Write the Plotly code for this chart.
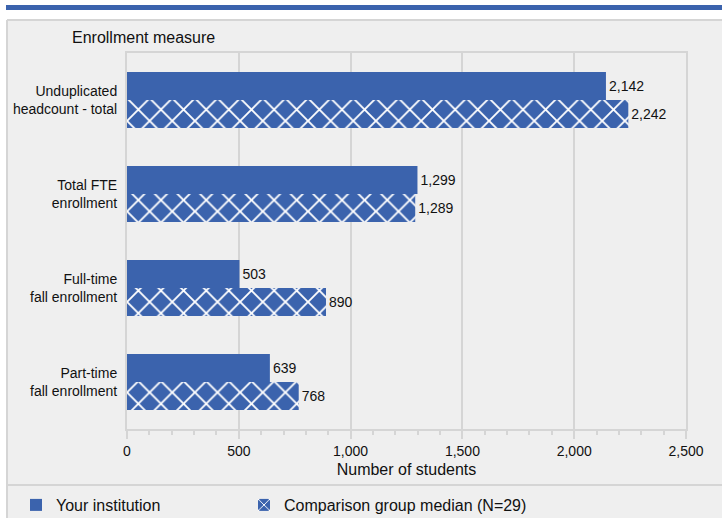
import plotly.graph_objects as go

categories = ["Unduplicated<br>headcount - total", "Total FTE<br>enrollment",
              "Full-time<br>fall enrollment", "Part-time<br>fall enrollment"]
your_institution = [2142, 1299, 503, 639]
comparison_median = [2242, 1289, 890, 768]
series_names = ["Your institution", "Comparison group median (N=29)"]
x_ticks = [0, 500, 1000, 1500, 2000, 2500]
x_ticklabels = ["0", "500", "1,000", "1,500", "2,000", "2,500"]

W, H = 722, 518
L, R, T, B = 127, 36, 53, 89
PW, PH = W - L - R, H - T - B

def px(x):
    return (x - L) / PW

def py(y):
    return (H - B - y) / PH

BLUE = "#3b63ad"
BG = "#efefef"
LINE = "#d5d5d5"
FONT = "Liberation Sans, Arial, sans-serif"

fig = go.Figure()
fig.add_trace(go.Bar(
    y=categories, x=your_institution, name=series_names[0], orientation="h",
    marker=dict(color=BLUE, line=dict(width=0)),
    text=[f"{v:,}" for v in your_institution], textposition="outside",
    textfont=dict(size=14, color="#111111", family=FONT), cliponaxis=False,
    legend="legend", hoverinfo="skip",
))
fig.add_trace(go.Bar(
    y=categories, x=comparison_median, name=series_names[1], orientation="h",
    marker=dict(color=BLUE, line=dict(width=0),
                pattern=dict(shape="x", fgcolor="white", bgcolor=BLUE, size=16, solidity=0.22,
                             fillmode="replace")),
    text=[f"{v:,}" for v in comparison_median], textposition="outside",
    textfont=dict(size=14, color="#111111", family=FONT), cliponaxis=False,
    legend="legend2", hoverinfo="skip",
))

shapes = [
    dict(type="rect", xref="paper", yref="paper", x0=px(6), x1=px(722), y0=py(20), y1=py(518),
         fillcolor=BG, line=dict(width=0), layer="below"),
    dict(type="line", xref="paper", yref="paper", x0=px(7), x1=px(722), y0=py(20), y1=py(20),
         line=dict(color=LINE, width=2)),
    dict(type="line", xref="paper", yref="paper", x0=px(7), x1=px(7), y0=py(20), y1=py(518),
         line=dict(color=LINE, width=2)),
    dict(type="line", xref="paper", yref="paper", x0=px(7), x1=px(722), y0=py(485), y1=py(485),
         line=dict(color=LINE, width=2)),
    dict(type="rect", xref="paper", yref="paper", x0=px(6), x1=px(722), y0=py(10), y1=py(5),
         fillcolor=BLUE, line=dict(width=0)),
]

legend_common = dict(orientation="h", xanchor="left", yanchor="middle", y=py(505),
                     bgcolor="rgba(0,0,0,0)", borderwidth=0,
                     font=dict(size=16, family=FONT, color="#111111"))

fig.update_layout(
    width=W, height=H,
    margin=dict(l=L, r=R, t=T, b=B, pad=0, autoexpand=False),
    paper_bgcolor="white", plot_bgcolor=BG,
    font=dict(family=FONT, size=14, color="#111111"),
    barmode="group", bargap=0.404, bargroupgap=0,
    shapes=shapes,
    showlegend=True,
    legend=dict(x=px(16), **legend_common),
    legend2=dict(x=px(244), **legend_common),
    annotations=[dict(text="Enrollment measure", xref="paper", yref="paper", x=px(143), y=py(38),
                      xanchor="center", yanchor="middle", showarrow=False,
                      font=dict(size=16, family=FONT, color="#111111"))],
)

fig.update_xaxes(
    range=[0, 2500], tickvals=x_ticks, ticktext=x_ticklabels,
    showgrid=True, gridcolor=LINE, gridwidth=2,
    showline=True, linecolor=LINE, linewidth=2, mirror=True,
    ticks="outside", ticklen=8, tickwidth=2, tickcolor=LINE,
    minor=dict(dtick=100, tick0=0, ticks="outside", ticklen=4, tickwidth=2, tickcolor=LINE, showgrid=False),
    zeroline=False, tickfont=dict(size=14), automargin=False,
    title=dict(text="Number of students", standoff=6, font=dict(size=16)),
)
fig.update_yaxes(
    autorange="reversed", showgrid=False, showline=True, linecolor=LINE, linewidth=2, mirror=True,
    ticks="", tickfont=dict(size=14), ticklabelstandoff=5, automargin=False,
)

fig.write_html("out.html", post_script="document.body.style.margin='0px';",
               config={"displayModeBar": False})
